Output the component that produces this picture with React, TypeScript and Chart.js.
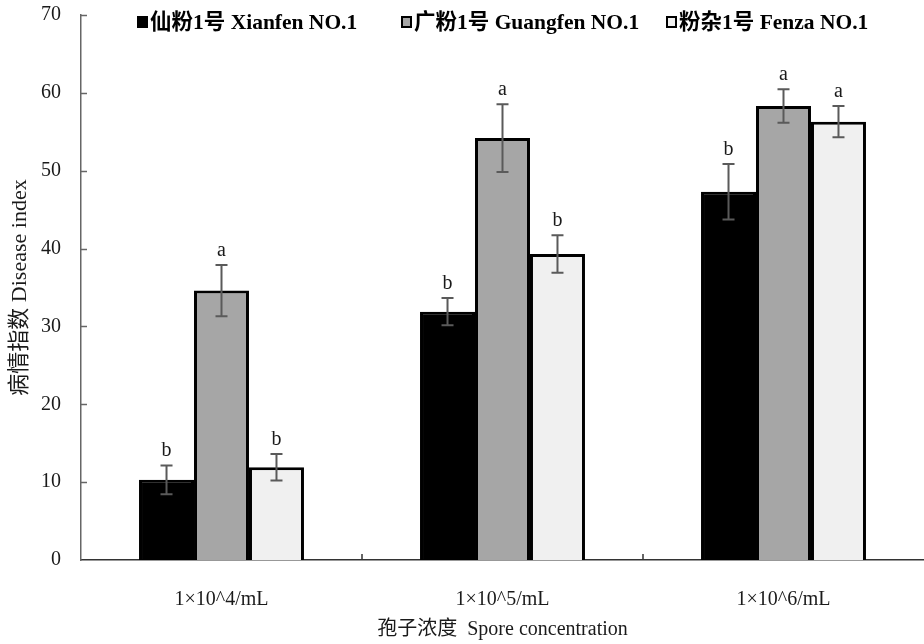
import React, { useEffect, useRef } from "react";
import { Chart, registerables } from "chart.js";

Chart.register(...registerables);

const categories = ["1×10^4/mL", "1×10^5/mL", "1×10^6/mL"];
const seriesNames = ["仙粉1号 Xianfen NO.1", "广粉1号 Guangfen NO.1", "粉杂1号 Fenza NO.1"];
const xianfen = [10.3, 31.9, 47.3];
const guangfen = [34.6, 54.2, 58.3];
const fenza = [11.9, 39.3, 56.3];
const xianfenErr = [1.85, 1.75, 3.55];
const guangfenErr = [3.3, 4.35, 2.15];
const fenzaErr = [1.7, 2.4, 2.0];
const xianfenLetters = ["b", "b", "b"];
const guangfenLetters = ["a", "a", "a"];
const fenzaLetters = ["b", "b", "a"];
const yTicks = [0, 10, 20, 30, 40, 50, 60, 70];

const FONT = "'Liberation Serif', 'Times New Roman', 'Noto Sans CJK SC', serif";
const fills = ["#000000", "#a6a6a6", "#f0f0f0"];

const errs = [xianfenErr, guangfenErr, fenzaErr];
const letters = [xianfenLetters, guangfenLetters, fenzaLetters];

const overlayPlugin = {
  id: "overlay",
  afterDatasetsDraw(chart: any) {
    const ctx = chart.ctx;
    const y = chart.scales.y;
    const x = chart.scales.x;
    const area = chart.chartArea;
    ctx.save();
    // inward ticks
    ctx.strokeStyle = "#666";
    ctx.lineWidth = 1.5;
    yTicks.forEach((v) => {
      if (v === 0) return;
      const py = Math.round(y.getPixelForValue(v)) + 0.5;
      ctx.beginPath();
      ctx.moveTo(area.left, py);
      ctx.lineTo(area.left + 6, py);
      ctx.stroke();
    });
    ctx.strokeStyle = "#333";
    for (let k = 1; k < categories.length; k++) {
      const px = (x.getPixelForValue(k - 1) + x.getPixelForValue(k)) / 2;
      ctx.beginPath();
      ctx.moveTo(px, area.bottom);
      ctx.lineTo(px, area.bottom - 6);
      ctx.stroke();
    }
    // error bars and letters
    chart.data.datasets.forEach((ds: any, i: number) => {
      const meta = chart.getDatasetMeta(i);
      meta.data.forEach((el: any, j: number) => {
        const v = ds.data[j];
        const e = errs[i][j];
        const top = y.getPixelForValue(v + e);
        const bot = y.getPixelForValue(v - e);
        const cx = el.x;
        ctx.strokeStyle = "#5a5a5a";
        ctx.lineWidth = 2;
        ctx.beginPath();
        ctx.moveTo(cx, top);
        ctx.lineTo(cx, bot);
        ctx.moveTo(cx - 6, top);
        ctx.lineTo(cx + 6, top);
        ctx.moveTo(cx - 6, bot);
        ctx.lineTo(cx + 6, bot);
        ctx.stroke();
        ctx.fillStyle = "#1a1a1a";
        ctx.font = `20px ${FONT}`;
        ctx.textAlign = "center";
        ctx.textBaseline = "alphabetic";
        ctx.fillText(letters[i][j], cx, top - 9);
      });
    });
    // legend
    const legendX = [137, 401, 666];
    const ly = 22;
    seriesNames.forEach((name, i) => {
      const lx = legendX[i];
      ctx.fillStyle = fills[i];
      ctx.fillRect(lx, ly - 6, 11, 12);
      ctx.strokeStyle = "#000";
      ctx.lineWidth = 2;
      ctx.strokeRect(lx + 1, ly - 5, 9, 10);
      ctx.fillStyle = "#000";
      ctx.font = `bold 21.5px ${FONT}`;
      ctx.textAlign = "left";
      ctx.textBaseline = "middle";
      ctx.fillText(name, lx + 13, ly + 1);
    });
    ctx.restore();
  },
};

export default function App() {
  const ref = useRef<HTMLCanvasElement>(null);
  useEffect(() => {
    const canvas = ref.current;
    if (!canvas) return;
    const seriesData = [xianfen, guangfen, fenza];
    const chart = new Chart(canvas, {
      type: "bar",
      data: {
        labels: categories,
        datasets: seriesData.map((d, i) => ({
          label: seriesNames[i],
          data: d,
          backgroundColor: fills[i],
          borderColor: "#000",
          borderWidth: 3,
          categoryPercentage: 0.587,
          barPercentage: 1.0,
        })),
      },
      options: {
        animation: false,
        responsive: false,
        devicePixelRatio: 1,
        layout: { padding: { top: 15, right: 0, left: 0, bottom: 0 } },
        plugins: { legend: { display: false }, tooltip: { enabled: false } },
        scales: {
          x: {
            grid: { display: false, drawTicks: false },
            border: { display: true, color: "#333", width: 1.5 },
            ticks: { color: "#1a1a1a", font: { family: FONT, size: 20 }, padding: 28 },
            title: {
              display: true,
              text: "孢子浓度  Spore concentration",
              color: "#1a1a1a",
              font: { family: FONT, size: 20 },
              padding: 2,
            },
            afterFit: (s: any) => {
              s.height = 84;
              s.paddingLeft = 0;
              s.paddingRight = 0;
            },
          },
          y: {
            min: 0,
            max: 70,
            grid: { display: false, drawTicks: false },
            border: { display: true, color: "#666", width: 1.5 },
            ticks: {
              stepSize: 10,
              color: "#1a1a1a",
              font: { family: FONT, size: 20 },
              padding: 20,
            },
            title: {
              display: true,
              text: "病情指数 Disease index",
              color: "#1a1a1a",
              font: { family: FONT, size: 22 },
              padding: 7,
            },
            afterFit: (s: any) => {
              s.width = 81;
              s.paddingTop = 0;
              s.paddingBottom = 0;
            },
          },
        },
      },
      plugins: [overlayPlugin],
    });
    return () => chart.destroy();
  }, []);
  return (
    <div style={{ position: "absolute", left: 0, top: 0, width: 924, height: 644, background: "#fff" }}>
      <canvas ref={ref} width={924} height={644} />
    </div>
  );
}
